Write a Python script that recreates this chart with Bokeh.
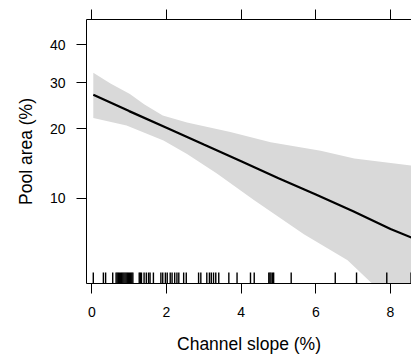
import numpy as np
from bokeh.plotting import figure
from bokeh.models import (FixedTicker, CustomJSTickFormatter, LinearAxis,
                          Range1d)
from bokeh.embed import file_html
from bokeh.resources import INLINE

# ---- data ----
# fitted pool area (%) against channel slope (%)
fit_slope = [0.04, 1, 2, 3, 4, 5, 6, 7, 8, 8.7]
fit_pool = [27.1, 23.5, 20.2, 17.2, 14.6, 12.3, 10.4, 8.7, 7.2, 6.4]

# confidence band edges
upper_slope = [0.04, 0.5, 1.02, 1.4, 1.9, 2.55, 3.71, 4.79, 6.13, 7.03, 8.7]
upper_pool = [32.5, 29.8, 27.3, 25.0, 22.6, 21.2, 19.4, 17.6, 16.2, 15.0, 13.9]
lower_slope = [0.04, 0.93, 1.92, 2.55, 3.35, 4.34, 5.68, 6.85, 7.47, 8.7]
lower_pool = [22.1, 20.6, 17.9, 15.7, 12.9, 9.8, 6.8, 5.1, 4.0, 2.6]

# observed channel slopes (rug)
rug_slope = [0.04, 0.31, 0.37, 0.56, 0.65, 0.68, 0.71, 0.74, 0.77, 0.8, 0.83,
             0.86, 0.89, 0.92, 0.95, 0.98, 1.01, 1.04, 1.07, 1.1, 1.27, 1.3,
             1.33, 1.4, 1.46, 1.52, 1.56, 1.65, 1.85, 1.9, 1.97, 2.02, 2.1,
             2.15, 2.22, 2.28, 2.33, 2.46, 2.53, 2.86, 2.92, 3.08, 3.15, 3.2,
             3.26, 3.32, 3.4, 3.67, 3.89, 4.25, 4.35, 4.74, 4.77, 4.8, 4.84,
             4.87, 5.34, 6.52, 7.09, 7.9, 8.55]

x_ticks = [0, 2, 4, 6, 8]
y_ticks_pct = [10, 20, 30, 40]

FONT = "Liberation Sans"


def logit_pct(v):
    p = np.asarray(v, dtype=float) / 100.0
    return np.log(p / (1 - p))


y_lo, y_hi = -3.194, -0.110

p = figure(width=411, height=358, output_backend="svg", toolbar_location=None,
           x_range=Range1d(-0.142, 8.562), y_range=Range1d(y_lo, y_hi),
           min_border_left=86, min_border_right=0, min_border_top=19,
           min_border_bottom=75)
p.xgrid.visible = False
p.ygrid.visible = False
p.outline_line_color = None
p.background_fill_color = "white"
p.border_fill_color = "white"

# band
bx = list(upper_slope) + list(lower_slope[::-1])
by = list(logit_pct(upper_pool)) + list(logit_pct(lower_pool)[::-1])
p.patch(bx, by, fill_color="#D9D9D9", line_color=None)

# fitted line
p.line(fit_slope, logit_pct(fit_pool), line_color="black", line_width=2.2)

# rug
rug_len = 11 / 85.6
p.segment(x0=rug_slope, x1=rug_slope, y0=[y_lo] * len(rug_slope),
          y1=[y_lo + rug_len] * len(rug_slope), line_color="black",
          line_width=1.4)

# axes
xa = p.xaxis[0]
xa.ticker = FixedTicker(ticks=x_ticks)
xa.axis_label = "Channel slope (%)"
ya = p.yaxis[0]
ya.ticker = FixedTicker(ticks=list(logit_pct(y_ticks_pct)))
ya.formatter = CustomJSTickFormatter(
    code="return (100/(1+Math.exp(-tick))).toFixed(0);")
ya.axis_label = "Pool area (%)"

top = LinearAxis(ticker=FixedTicker(ticks=x_ticks))
top.formatter = CustomJSTickFormatter(code="return '';")
top.major_label_standoff = 0
p.add_layout(top, "above")

for ax in (xa, ya, top):
    ax.axis_line_color = "black"
    ax.axis_line_width = 1
    ax.major_tick_line_color = "black"
    ax.major_tick_in = 0
    ax.major_tick_out = 10
    ax.minor_tick_line_color = None
    ax.major_label_text_font = FONT
    ax.major_label_text_color = "black"
    ax.axis_label_text_font = FONT
    ax.axis_label_text_font_style = "normal"
    ax.axis_label_text_color = "black"
    ax.axis_label_text_font_size = "17.5px"

xa.major_label_text_font_size = "14px"
ya.major_label_text_font_size = "14px"
top.major_label_text_font_size = "14px"
xa.major_label_standoff = 13
xa.axis_label_standoff = 14
ya.major_label_standoff = 11
ya.axis_label_standoff = 11

open("out.html", "w").write(file_html(p, INLINE))
